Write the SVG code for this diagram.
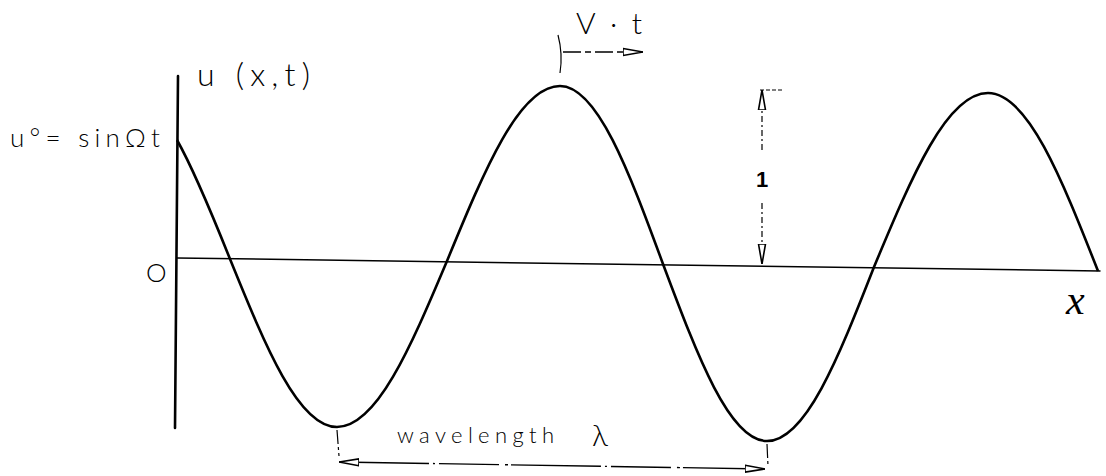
<svg xmlns="http://www.w3.org/2000/svg" width="1106" height="476" viewBox="0 0 1106 476">
<style>
.ax{stroke:#000;fill:none;stroke-linecap:round}
.wave{stroke:#000;fill:none;stroke-width:2.6;stroke-linejoin:round}
.dash{stroke:#000;fill:none;stroke-width:1.2;stroke-dasharray:14 3 3 3}
.hand{font-family:Lato,"Open Sans","Liberation Sans",sans-serif;font-weight:300;fill:#000}
</style>
<defs>
<marker id="ah" viewBox="0 0 20 10" refX="20" refY="5" markerWidth="20" markerHeight="10" markerUnits="userSpaceOnUse" orient="auto-start-reverse">
<path d="M0,1.5 L20,5 L0,8.5 Z" fill="#fff" stroke="#000" stroke-width="1.6"/>
</marker>
</defs>
<rect width="1106" height="476" fill="#fff"/>
<g id="axes">
<line class="ax" x1="178" y1="76" x2="175" y2="428" stroke-width="2.6"/>
<line class="ax" x1="177" y1="258" x2="1100" y2="271" stroke-width="1.5"/>
</g>
<g id="wave">
<path class="wave" d="M177,140 C194,170 214,219 230,259 C265.8,347.2 298.5,427 337,427 C376.6,427 410.2,348.2 447,261 C484.8,169.1 519.3,86 560,86 C597.1,86 628.6,170.5 663,264 C697.8,356.9 729.6,441 767,441 C805.5,441 838.2,358.4 874,267 C912.1,175.6 947,93 988,93 C1027.6,93 1061.2,177.5 1098,271"/>
</g>
<g id="connectors">
<path class="dash" d="M337,430 L339,456"/>
<path class="dash" d="M767,444 L768,466"/>
<line x1="339" y1="462" x2="765" y2="469" stroke="#000" stroke-width="1.4" stroke-dasharray="90 4 2 4 60 6 3 3" marker-start="url(#ah)" marker-end="url(#ah)"/>
<path d="M558,35 Q563,54 560,73" fill="none" stroke="#000" stroke-width="1.2"/>
<line x1="563" y1="52" x2="643" y2="52" stroke="#000" stroke-width="1.4" stroke-dasharray="18 4 6 4" marker-end="url(#ah)"/>
<line x1="760" y1="90" x2="783" y2="90" stroke="#000" stroke-width="1.2" stroke-dasharray="4 2"/>
<line x1="762" y1="150" x2="762" y2="90" stroke="#000" stroke-width="1.2" stroke-dasharray="6 3 2 3" marker-end="url(#ah)"/>
<line x1="762" y1="203" x2="762" y2="264" stroke="#000" stroke-width="1.2" stroke-dasharray="6 3 2 3" marker-end="url(#ah)"/>
</g>
<g id="labels">
<text class="hand" x="197" y="86" font-size="32" textLength="113" lengthAdjust="spacing">u (x,t)</text>
<text class="hand" x="10" y="147" font-size="26" textLength="150" lengthAdjust="spacing">u°= sinΩt</text>
<text class="hand" x="146" y="282" font-size="26">O</text>
<text x="1066" y="314" font-family="Liberation Serif,serif" font-style="italic" font-size="42">x</text>
<text class="hand" x="576" y="34" font-size="30" textLength="66" lengthAdjust="spacing">V·t</text>
<text x="756" y="187" font-family="Liberation Sans,sans-serif" font-size="22" font-weight="bold">1</text>
<text class="hand" x="397" y="443" font-size="22" textLength="157" lengthAdjust="spacing">wavelength</text>
<text class="hand" x="592" y="446" font-size="30">λ</text>
</g>
</svg>
